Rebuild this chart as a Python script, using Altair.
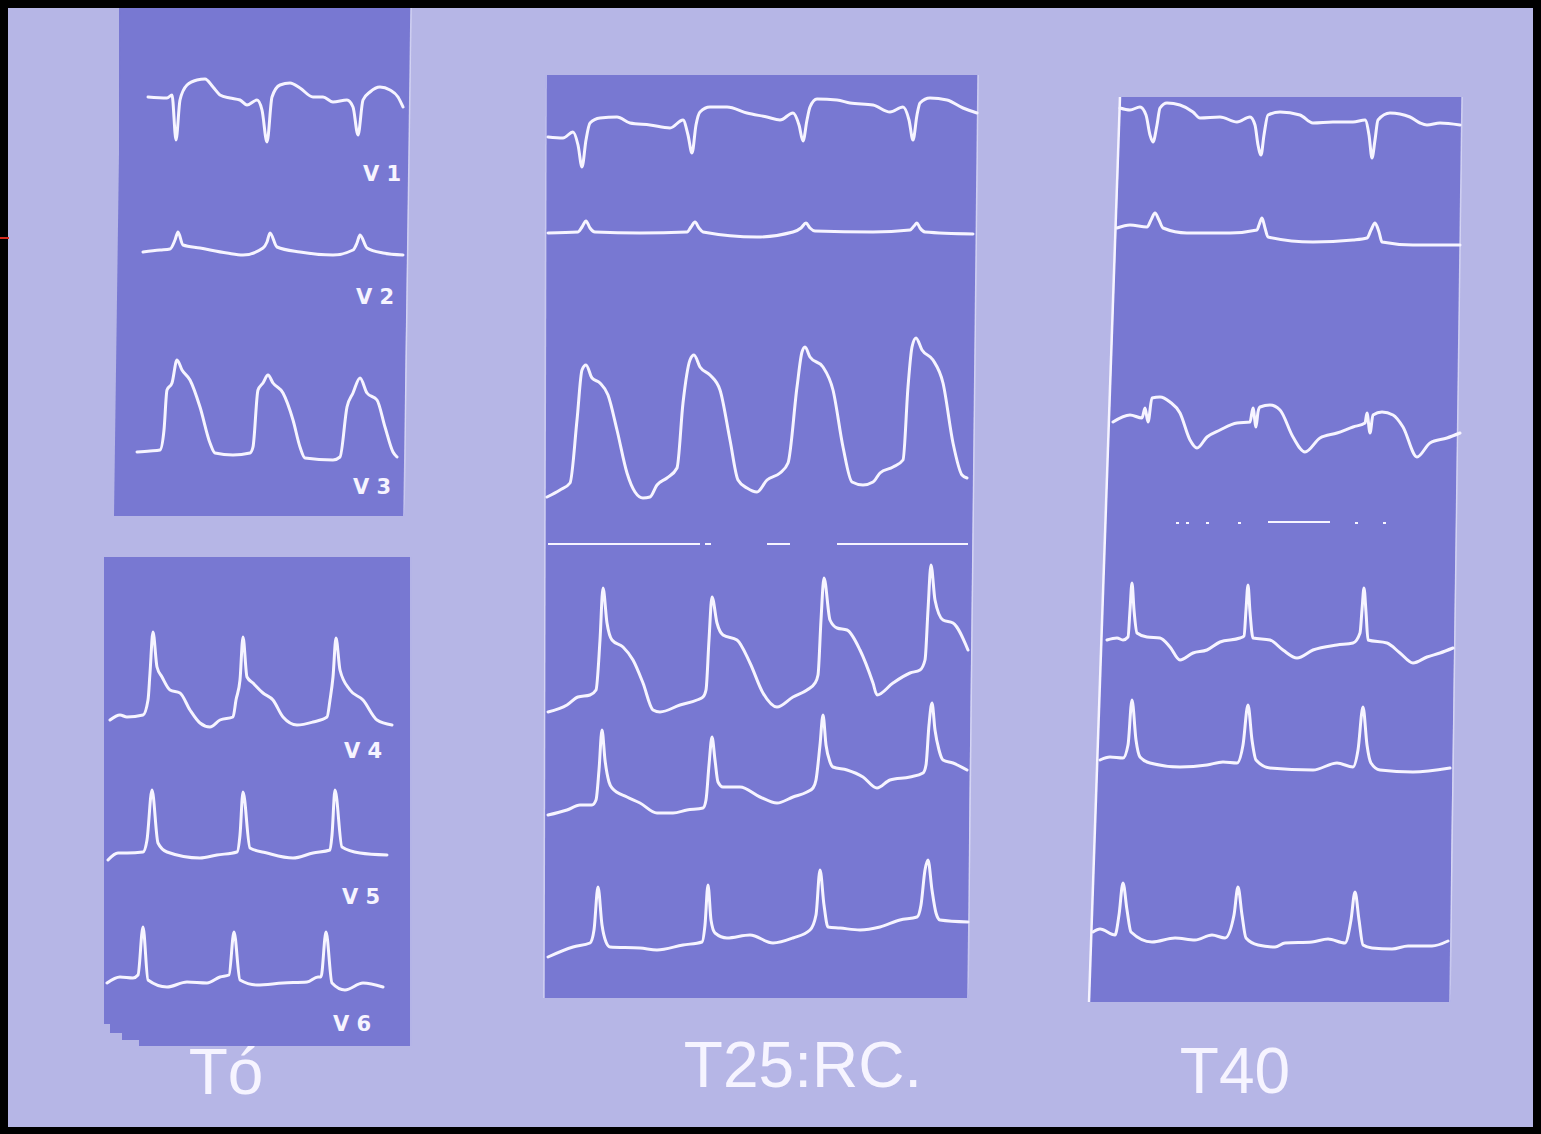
import altair as alt
import pandas as pd

# ---------------- trace values ----------------
# T0 strip, leads V1-V3
T0_V1_x = [148,167,172,176,180,187,197,205,213,220,230,240,247,257,262,267,272,280,290,300,313,323,333,347,353,358,363,370,380,390,398,403]
T0_V1_y = [97,98,95,140,100,85,80,79,87,95,98,100,105,100,110,142,97,85,83,88,97,97,102,100,107,135,100,92,87,90,97,107]
T0_V2_x = [143,160,170,175,178,183,200,227,243,263,267,270,277,300,333,353,357,360,367,383,403]
T0_V2_y = [252,250,249,240,232,245,248,253,255,248,242,233,247,252,255,250,243,235,248,253,255]
T0_V3_x = [137,150,160,164,167,172,177,182,190,200,210,215,233,250,253,258,263,268,273,283,293,300,305,333,340,347,353,360,367,377,385,393,397]
T0_V3_y = [452,451,450,430,390,383,360,370,380,407,443,453,455,453,447,390,383,375,383,393,420,447,458,460,457,407,393,378,393,400,427,452,457]
# T0 strip, leads V4-V6
T0_V4_x = [110,120,127,143,148,150,153,157,162,170,180,190,200,210,220,233,236,240,243,247,253,263,273,283,297,313,327,330,333,336,340,350,363,377,392]
T0_V4_y = [720,715,717,715,700,673,632,667,677,690,693,710,723,727,720,717,700,680,637,677,683,693,700,717,725,722,717,700,677,638,670,690,700,720,725]
T0_V5_x = [108,118,127,143,147,152,158,167,200,217,237,240,243,250,267,293,313,330,332,335,342,360,387]
T0_V5_y = [860,853,853,852,840,790,843,852,858,855,852,835,792,848,853,858,853,850,835,790,847,853,855]
T0_V6_x = [107,120,133,138,143,148,167,187,207,220,229,234,240,257,283,307,318,321,326,332,345,363,383]
T0_V6_y = [983,977,978,975,927,980,987,982,983,977,975,932,980,985,983,982,977,977,932,983,990,983,987]
# T25 strip
T25_V1_x = [548,563,573,578,582,586,590,600,617,630,650,670,683,688,692,696,700,710,727,747,767,780,793,799,803,807,810,817,837,850,873,890,903,909,913,917,920,930,947,963,977]
T25_V1_y = [137,138,132,145,167,140,123,118,117,123,125,128,120,135,153,125,112,107,107,113,117,120,113,125,141,120,107,99,100,103,105,112,107,120,140,115,103,98,100,108,113]
T25_V2_x = [548,578,582,586,590,595,640,687,691,695,699,703,757,793,801,806,810,815,873,910,914,917,920,925,973]
T25_V2_y = [233,232,227,221,228,232,233,232,227,222,228,232,237,232,228,223,228,231,232,230,226,223,228,232,234]
T25_V3_x = [547,560,570,577,582,586,592,600,608,617,627,635,643,650,657,667,677,683,690,694,700,710,720,730,738,747,757,767,780,788,797,802,805,810,823,833,843,852,863,873,880,893,903,908,912,916,922,933,943,953,962,967]
T25_V3_y = [497,490,483,420,370,365,378,383,395,430,473,492,498,497,485,478,468,403,360,355,367,375,390,440,480,488,492,480,473,463,387,352,347,357,367,390,447,482,485,482,473,467,460,387,347,338,350,360,383,443,475,478]
T25_V4_x = [548,567,578,590,596,600,603,607,612,623,633,643,653,660,680,697,703,706,709,712,717,723,737,750,763,777,793,807,815,818,821,824,830,837,847,860,873,877,893,910,920,925,928,931,935,943,953,968]
T25_V4_y = [712,705,697,695,690,640,588,623,640,647,660,683,710,712,705,700,697,690,640,597,623,635,640,663,693,707,697,690,683,675,620,578,620,628,630,650,683,695,683,673,670,660,610,565,600,620,623,650]
T25_V5_x = [548,567,580,592,596,599,602,605,609,612,627,640,657,673,687,703,706,709,712,715,718,723,740,760,777,793,807,813,816,820,823,826,830,833,847,863,877,890,910,923,926,929,932,935,939,943,953,967]
T25_V5_y = [815,810,805,805,800,770,730,760,782,788,797,803,813,813,810,808,800,765,737,760,782,787,787,797,803,797,792,788,780,745,715,745,762,767,770,777,788,780,777,773,765,725,703,730,750,760,763,770]
T25_V6_x = [548,573,590,594,598,602,606,610,640,657,683,702,705,708,711,715,727,750,773,793,810,816,820,824,828,840,860,880,900,917,921,925,928,932,936,940,968]
T25_V6_y = [957,947,943,930,887,925,942,947,948,950,945,942,925,885,920,933,938,935,943,938,930,915,870,905,927,928,930,927,920,917,905,870,860,890,913,920,922]
# T40 strip
T40_V1_x = [1120,1130,1140,1146,1150,1153,1157,1160,1167,1180,1193,1200,1220,1237,1250,1255,1258,1261,1264,1268,1280,1300,1313,1333,1353,1365,1369,1372,1375,1378,1390,1410,1420,1427,1440,1460]
T40_V1_y = [108,110,107,115,135,142,125,108,103,105,112,118,117,122,117,125,145,155,135,115,112,115,123,122,122,120,135,158,140,120,113,117,123,125,123,125]
T40_V2_x = [1117,1130,1147,1151,1155,1159,1163,1187,1230,1257,1259,1262,1265,1268,1313,1353,1367,1371,1375,1379,1382,1413,1460]
T40_V2_y = [228,225,227,220,213,220,228,233,233,230,225,218,228,237,242,240,238,230,223,232,242,245,245]
T40_V3_x = [1113,1130,1142,1145,1148,1152,1160,1170,1180,1190,1197,1207,1220,1237,1250,1253,1256,1258,1260,1270,1280,1293,1305,1320,1337,1353,1365,1367,1370,1373,1382,1393,1403,1417,1430,1447,1460]
T40_V3_y = [422,415,418,408,422,398,397,402,413,440,448,437,430,423,422,408,427,412,407,405,410,437,452,438,433,427,423,413,433,415,412,415,427,457,443,438,433]
T40_V4_x = [1107,1117,1123,1128,1130,1132,1134,1137,1147,1160,1170,1180,1193,1207,1220,1240,1244,1246,1248,1250,1253,1270,1283,1297,1313,1337,1353,1360,1362,1364,1366,1368,1387,1400,1413,1427,1440,1453]
T40_V4_y = [640,638,640,637,610,583,610,633,637,638,647,660,653,650,642,638,636,610,585,612,638,640,650,658,650,645,643,633,610,588,612,640,643,653,663,657,653,648]
T40_V5_x = [1100,1110,1123,1128,1132,1136,1140,1150,1180,1207,1223,1237,1243,1248,1252,1256,1270,1313,1337,1353,1358,1363,1367,1371,1380,1413,1450]
T40_V5_y = [760,757,758,745,700,740,757,763,767,765,762,763,745,705,740,760,768,770,763,767,750,707,745,763,770,772,768]
T40_V6_x = [1093,1100,1115,1119,1123,1127,1131,1152,1175,1195,1212,1225,1234,1238,1242,1246,1258,1275,1285,1312,1328,1345,1351,1355,1359,1363,1372,1392,1408,1432,1448]
T40_V6_y = [932,929,935,915,883,910,932,942,938,940,935,938,915,887,915,938,945,947,943,942,939,943,920,892,920,945,948,949,946,946,941]

# ---------------- labels ----------------
lead_labels = ["V 1", "V 2", "V 3", "V 4", "V 5", "V 6"]
lead_label_x = [382, 375, 372, 363, 361, 352]
lead_label_y = [175, 298, 488, 752, 898, 1025]
time_labels = ["Tó", "T25:RC.", "T40"]
time_label_x = [226, 803, 1235]
time_label_y = [1075, 1068, 1074]

# ---------------- layout (paper strips, as trapezoids) ----------------
# (top y, top-left x, top-right x, bottom y, bottom-left x, bottom-right x)
strip_names = ["A", "B", "C", "D"]
strip_top_y = [8, 557, 75, 97]
strip_top_xl = [120, 106, 546, 1120]
strip_top_xr = [411, 411, 978, 1462]
strip_bot_y = [516, 1046, 998, 1002]
strip_bot_xl = [114, 140, 544, 1089]
strip_bot_xr = [404, 411, 968, 1450]
# torn lower-left corner of strip B
tear_x1 = [104, 110, 122]
tear_x2 = [143, 143, 143]
tear_y1 = [557, 1020, 1029]
tear_y2 = [1024, 1033, 1040]

edge_x1 = [411, 411, 978, 1462, 546]
edge_y1 = [8, 557, 75, 97, 75]
edge_x2 = [404, 411, 968, 1450, 544]
edge_y2 = [516, 1046, 998, 1002, 998]

div_x1 = [548, 705, 767, 837, 1176, 1186, 1206, 1238, 1268, 1355, 1383]
div_x2 = [700, 711, 790, 968, 1179, 1189, 1209, 1241, 1330, 1358, 1386]
div_y  = [544, 544, 544, 544, 523, 523, 523, 523, 522, 523, 523]

BG = "#b6b6e6"
PANEL = "#7878d2"
INK = "#f6f4ff"

W, H = 1541, 1134
xs = alt.Scale(domain=[0, W], nice=False, zero=False)
ys = alt.Scale(domain=[0, H], nice=False, zero=False, reverse=True)

traces = {
    "T0_V1": (T0_V1_x, T0_V1_y), "T0_V2": (T0_V2_x, T0_V2_y), "T0_V3": (T0_V3_x, T0_V3_y),
    "T0_V4": (T0_V4_x, T0_V4_y), "T0_V5": (T0_V5_x, T0_V5_y), "T0_V6": (T0_V6_x, T0_V6_y),
    "T25_V1": (T25_V1_x, T25_V1_y), "T25_V2": (T25_V2_x, T25_V2_y), "T25_V3": (T25_V3_x, T25_V3_y),
    "T25_V4": (T25_V4_x, T25_V4_y), "T25_V5": (T25_V5_x, T25_V5_y), "T25_V6": (T25_V6_x, T25_V6_y),
    "T40_V1": (T40_V1_x, T40_V1_y), "T40_V2": (T40_V2_x, T40_V2_y), "T40_V3": (T40_V3_x, T40_V3_y),
    "T40_V4": (T40_V4_x, T40_V4_y), "T40_V5": (T40_V5_x, T40_V5_y), "T40_V6": (T40_V6_x, T40_V6_y),
}
rows = []
for name, (tx, ty) in traces.items():
    for i, (a, b) in enumerate(zip(tx, ty)):
        rows.append({"trace": name, "i": i, "x": a, "y": b})
trace_df = pd.DataFrame(rows)


def X(f, **kw):
    return alt.X(f, scale=xs, axis=None, **kw)


def Y(f, **kw):
    return alt.Y(f, scale=ys, axis=None, **kw)


# core rectangles + triangular slivers for the slanted sides (slight overlap hides seams)
core_rows = []
sliver_layers = []
for k in range(len(strip_names)):
    yt, xlt, xrt = strip_top_y[k], strip_top_xl[k], strip_top_xr[k]
    yb, xlb, xrb = strip_bot_y[k], strip_bot_xl[k], strip_bot_xr[k]
    cl, cr = max(xlt, xlb), min(xrt, xrb)
    core_rows.append({"x": cl - 1, "x2": cr + 1, "y": yt, "y2": yb})
    slivers = []
    if xlb < xlt:
        slivers.append([(xlb, yb, yb), (xlt + 1, yt, yb)])
    elif xlb > xlt and strip_names[k] != "B":
        slivers.append([(xlt, yt, yt), (xlb + 1, yt, yb)])
    if xrb < xrt:
        slivers.append([(xrb - 1, yt, yb), (xrt, yt, yt)])
    elif xrb > xrt:
        slivers.append([(xrt - 1, yt, yb), (xrb, yb, yb)])
    for s in slivers:
        sdf = pd.DataFrame([{"x": a, "y": b, "y2": c} for a, b, c in s])
        sliver_layers.append(
            alt.Chart(sdf).mark_area(color=PANEL, opacity=1, orient="vertical").encode(
                x=X("x:Q"), y=Y("y:Q", stack=None), y2="y2:Q"))

core_df = pd.DataFrame(core_rows)
tear_df = pd.DataFrame({"x": tear_x1, "x2": tear_x2, "y": tear_y1, "y2": tear_y2})
bg_df = pd.DataFrame({"x": [8], "x2": [1533], "y": [8], "y2": [1127]})
edge_df = pd.DataFrame({"x": edge_x1, "y": edge_y1, "x2": edge_x2, "y2": edge_y2})
dleft_df = pd.DataFrame({"x": [1120], "y": [97], "x2": [1089], "y2": [1002]})
div_df = pd.DataFrame({"x": div_x1, "x2": div_x2, "y": div_y})
red_df = pd.DataFrame({"x": [0], "x2": [9], "y": [238]})
lead_df = pd.DataFrame({"t": lead_labels, "x": lead_label_x, "y": lead_label_y})
time_df = pd.DataFrame({"t": time_labels, "x": time_label_x, "y": time_label_y})

bg = alt.Chart(bg_df).mark_rect(color=BG).encode(x=X("x:Q"), x2="x2:Q", y=Y("y:Q"), y2="y2:Q")
cores = alt.Chart(core_df).mark_rect(color=PANEL).encode(x=X("x:Q"), x2="x2:Q", y=Y("y:Q"), y2="y2:Q")
tears = alt.Chart(tear_df).mark_rect(color=PANEL).encode(x=X("x:Q"), x2="x2:Q", y=Y("y:Q"), y2="y2:Q")

edges = alt.Chart(edge_df).mark_rule(color="#dcdcf6", strokeWidth=1.5, opacity=0.8).encode(
    x=X("x:Q"), y=Y("y:Q"), x2="x2:Q", y2="y2:Q")
dleft = alt.Chart(dleft_df).mark_rule(color=INK, strokeWidth=2.5).encode(
    x=X("x:Q"), y=Y("y:Q"), x2="x2:Q", y2="y2:Q")
divs = alt.Chart(div_df).mark_rule(color=INK, strokeWidth=2).encode(
    x=X("x:Q"), x2="x2:Q", y=Y("y:Q"))
red = alt.Chart(red_df).mark_rule(color="#d42a1e", strokeWidth=2).encode(
    x=X("x:Q"), x2="x2:Q", y=Y("y:Q"))
lines = alt.Chart(trace_df).mark_line(color=INK, strokeWidth=3, strokeJoin="round", strokeCap="round",
                                      interpolate="monotone").encode(
    x=X("x:Q"), y=Y("y:Q"), detail="trace:N", order=alt.Order("i:Q"))
leads = alt.Chart(lead_df).mark_text(color=INK, font="DejaVu Sans", fontWeight="bold", fontSize=21,
                                     align="center", baseline="middle").encode(
    x=X("x:Q"), y=Y("y:Q"), text="t:N")
times = alt.Chart(time_df).mark_text(color=INK, font="Liberation Sans", fontWeight="normal", fontSize=64,
                                     align="center", baseline="middle").encode(
    x=X("x:Q"), y=Y("y:Q"), text="t:N")

chart = alt.layer(bg, cores, tears, *sliver_layers, edges, dleft, divs, red, lines, leads, times).properties(
    width=W, height=H, background="#000000", padding=0,
    autosize=alt.AutoSizeParams(type="none"),
).configure_view(stroke=None)

chart.save("out.html", embed_options={"renderer": "svg", "actions": False})
